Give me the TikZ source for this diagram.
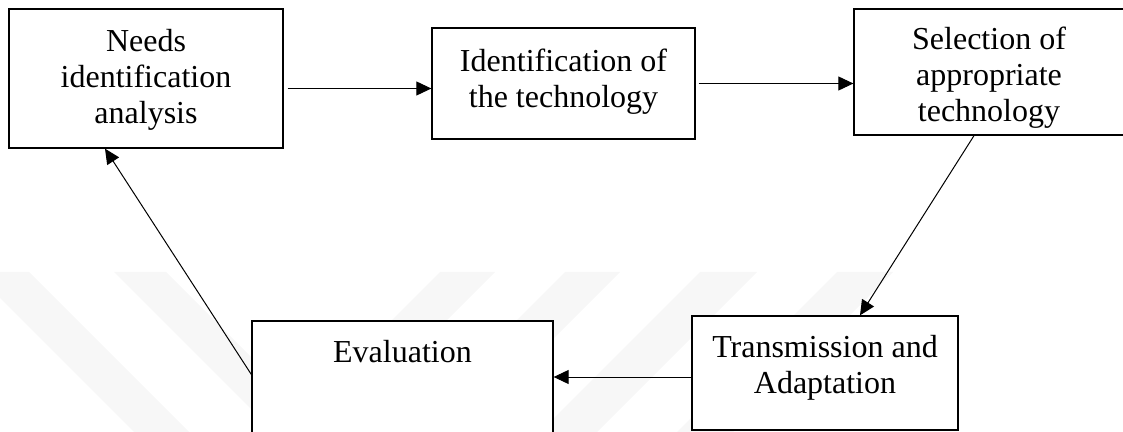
\documentclass[tikz,border=0pt]{standalone}
\usepackage{fontspec}
\setmainfont{Liberation Serif}
\usetikzlibrary{arrows.meta,positioning}

\begin{document}
\begin{tikzpicture}[x=0.5pt, y=-0.5pt,
    box/.style={draw, fill=white, line width=0.65pt, inner sep=0pt},
    label/.style={font=\fontsize{16}{18}\selectfont, align=center, inner sep=0pt},
    stripe/.style={fill=gray!6, draw=none},
    >={Triangle[length=7.5pt, width=7pt]}]
    \clip (0,0) rectangle (1123,432);

    % faint background stripes
    \fill [stripe] (-26,272) -- (29,272) -- (189,432) -- (134,432) -- cycle;
    \fill [stripe] (114,272) -- (166,272) -- (326,432) -- (274,432) -- cycle;
    \fill [stripe] (440,272) -- (495,272) -- (335,432) -- (280,432) -- cycle;
    \fill [stripe] (565,272) -- (620,272) -- (460,432) -- (405,432) -- cycle;
    \fill [stripe] (700,272) -- (757,272) -- (597,432) -- (540,432) -- cycle;
    \fill [stripe] (837,272) -- (893,272) -- (733,432) -- (677,432) -- cycle;

    \node [box, minimum width=137pt, minimum height=69.5pt] (needs) at (146,78.5) {};
    \node [box, minimum width=131.5pt, minimum height=55.5pt] (ident) at (563.5,83.5) {};
    \node [box, minimum width=135pt, minimum height=63pt] (sel) at (989,72) {};
    \node [box, minimum width=133pt, minimum height=57pt] (trans) at (825,373) {};
    \node [box, minimum width=150.5pt, minimum height=62pt] (eval) at (402.5,383) {};

    \node [label, below=10.5pt of needs.north] (needs-txt) {Needs\\identification\\analysis};
    \node [label, below=10.5pt of ident.north] (ident-txt) {Identification of\\the technology};
    \node [label, below=9pt of sel.north] (sel-txt) {Selection of\\appropriate\\technology};
    \node [label, below=10pt of trans.north] (trans-txt) {Transmission and\\Adaptation};
    \node [label, below=10pt of eval.north] (eval-txt) {Evaluation};

    \draw [->, line width=0.5pt] ([xshift=2pt,yshift=-5pt]needs.east) -- ([yshift=-5pt]needs.east -| ident.west);
    \draw [->, line width=0.5pt] ([xshift=1.5pt]ident.east) -- (ident.east -| sel.west);
    \draw [->, line width=0.5pt] ([xshift=-7.5pt]sel.south) -- ([xshift=17.5pt]trans.north);
    \draw [->, line width=0.5pt] ([yshift=-2pt]trans.west) -- ([yshift=-2pt]trans.west -| eval.east);
    \draw [->, line width=0.5pt] ([yshift=4.25pt]eval.west) -- ([xshift=-20.5pt]needs.south);
\end{tikzpicture}
\end{document}
